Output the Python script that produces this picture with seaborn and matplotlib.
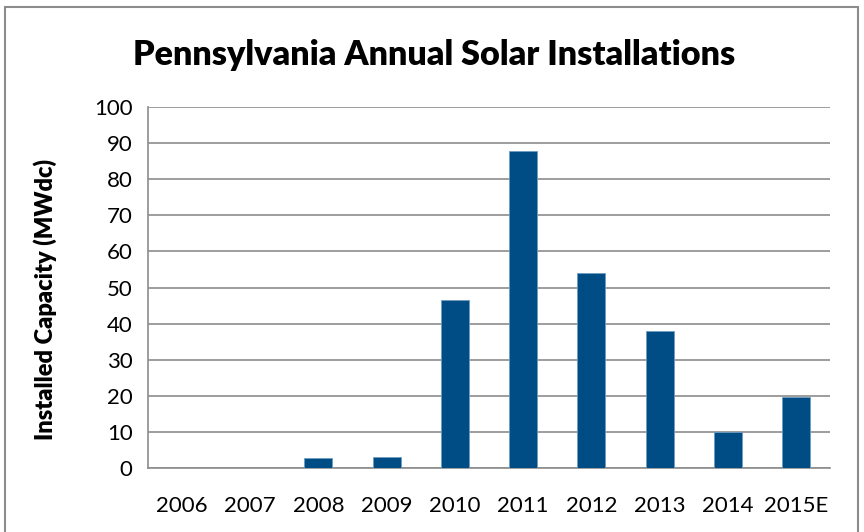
import matplotlib
matplotlib.use('Agg')
import matplotlib.pyplot as plt
import seaborn as sns
import pandas as pd
from matplotlib.patches import Rectangle

years = ['2006', '2007', '2008', '2009', '2010', '2011', '2012', '2013', '2014', '2015E']
capacity = [0, 0, 2.7, 3.1, 46.5, 87.8, 54.1, 38.1, 10.0, 19.8]

df = pd.DataFrame({'year': years, 'mw': capacity})

sns.set_style('white')
plt.rcParams['font.family'] = ['Lato', 'DejaVu Sans']
plt.rcParams['text.color'] = 'black'
plt.rcParams['axes.labelcolor'] = 'black'

fig = plt.figure(figsize=(8.64, 5.32), dpi=100)
ax = fig.add_axes([0.171, 0.120, 0.790, 0.679])

sns.barplot(data=df, x='year', y='mw', color='#004c85', width=0.41, ax=ax,
            saturation=1, edgecolor='#6f9cc0', linewidth=0.6, zorder=3)

ax.set_ylim(0, 100)
ax.set_yticks(range(0, 101, 10))
ax.set_xlim(-0.5, len(years) - 0.5)
ax.yaxis.grid(True, color='#8c8c8c', linewidth=1.2, zorder=0)
ax.set_axisbelow(True)

# tick marks between categories
ax.set_xticks([i - 0.5 for i in range(len(years) + 1)], minor=True)
ax.tick_params(axis='x', which='major', length=0, labelsize=16, pad=20, colors='black')
ax.tick_params(axis='x', which='minor', length=6, width=1.2, color='#8c8c8c', direction='out')
ax.tick_params(axis='y', length=7, width=1.2, color='#8c8c8c', labelsize=16, pad=4,
               direction='out', labelcolor='black')

for s in ['top', 'right']:
    ax.spines[s].set_visible(False)
for s in ['left', 'bottom']:
    ax.spines[s].set_color('#8c8c8c')
    ax.spines[s].set_linewidth(1.2)

ax.set_xlabel('')
ax.set_ylabel('Installed Capacity (MWdc)', fontsize=17, fontweight='heavy')
ax.yaxis.set_label_coords(-0.133, 0.468)
fig.text(0.503, 0.897, 'Pennsylvania Annual Solar Installations', ha='center', va='center',
         fontsize=24.6, fontweight='heavy')

fig.patches.append(Rectangle((5 / 864, -0.02), 853 / 864, 1.02 - 7 / 532, transform=fig.transFigure,
                             fill=False, edgecolor='#8c8c8c', linewidth=1.5))

fig.savefig('out.png', dpi=100)
